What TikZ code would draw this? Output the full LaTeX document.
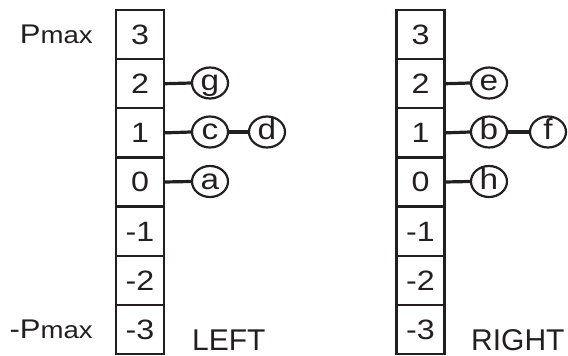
\documentclass[tikz,border=0pt]{standalone}
\usepackage{fontspec}
\usetikzlibrary{shapes.geometric}
\setmainfont{Liberation Sans}
\newfontfamily\widefont{Liberation Sans}[FakeStretch=1.15]
\definecolor{ink}{HTML}{231F20}
\begin{document}
\begin{tikzpicture}[x=1pt,y=-1pt,
  cell/.style={draw=ink, line width=2.3pt, minimum width=48pt, minimum height=49.14pt,
    inner sep=0pt, text height=20pt, text depth=0pt,
    font=\widefont\fontsize{28}{28}\selectfont, text=ink},
  item/.style={draw=ink, line width=2.2pt, ellipse, minimum width=36pt, minimum height=31pt,
    inner sep=0pt, text height=15.5pt, text depth=0pt,
    font=\widefont\fontsize{29}{29}\selectfont, text=ink},
  link/.style={draw=ink, line width=3.2pt},
  side/.style={font=\fontsize{30}{30}\selectfont, text=ink, anchor=base west,
    inner sep=0pt, text depth=0pt},
  bound/.style={text=ink, anchor=base east, inner sep=0pt, text depth=0pt}]
\useasboundingbox (0,0) rectangle (568,356);

% value columns
\foreach \v [count=\i from 0] in {3,2,1,0,-1,-2,-3} {
  \node[cell] (L\i) at (140, {10+49.14*(\i+0.5)}) {\v};
  \node[cell] (R\i) at (420.5, {10+49.14*(\i+0.5)}) {\v};
}

% left bucket lists
\node[item] (g) at (210, 83) {g};
\node[item] (c) at (210, 132) {c};
\node[item] (d) at (267, 132) {d};
\node[item] (a) at (210, 181.5) {a};
\draw[link] (L1.east) -- (g.west);
\draw[link] (L2.east) -- (c.west);
\draw[link] (c.east) -- (d.west);
\draw[link] (L3.east) -- (a.west);

% right bucket lists
\node[item] (e) at (489, 83) {e};
\node[item] (b) at (489, 132) {b};
\node[item] (f) at (548, 132) {f};
\node[item] (h) at (489, 181.5) {h};
\draw[link] (R1.east) -- (e.west);
\draw[link] (R2.east) -- (b.west);
\draw[link] (b.east) -- (f.west);
\draw[link] (R3.east) -- (h.west);

% bounds and side labels
\node[bound] (pmax) at (93, 43) {\widefont\fontsize{27}{27}\selectfont P\fontsize{24}{24}\selectfont max};
\node[bound] (nmax) at (93, 338) {\widefont\fontsize{27}{27}\selectfont -P\fontsize{24}{24}\selectfont max};
\node[side] (left) at (192, 350) {LEFT};
\node[side] (right) at (471, 350) {RIGHT};
\end{tikzpicture}
\end{document}
